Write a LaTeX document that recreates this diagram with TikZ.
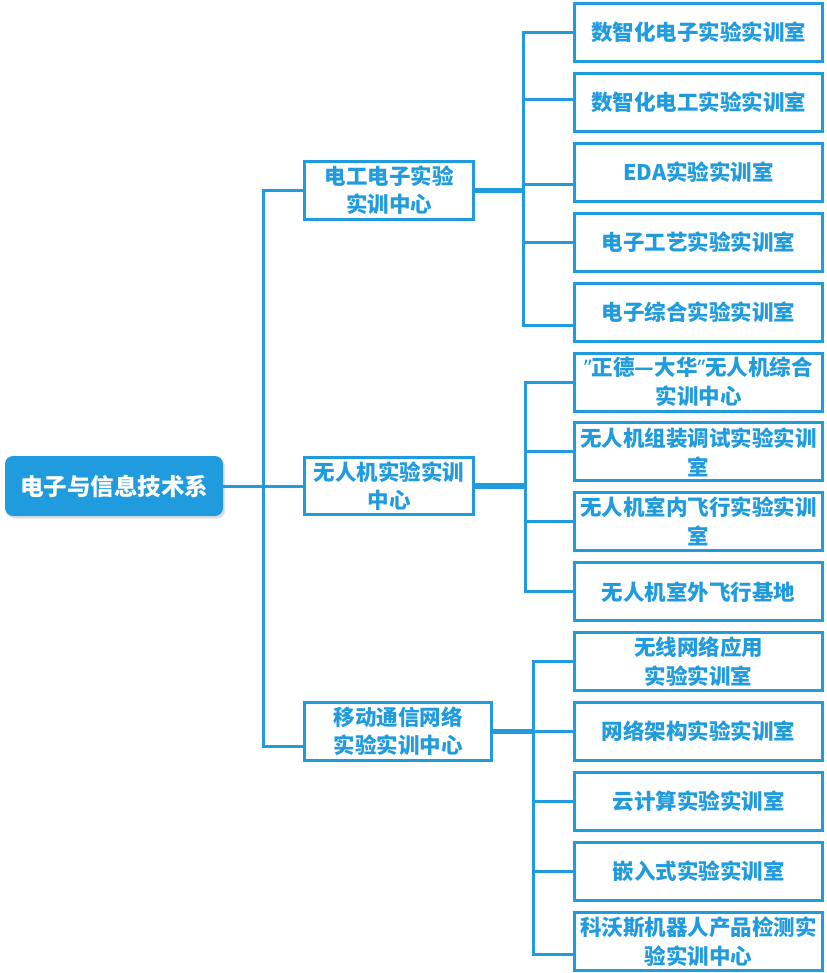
\documentclass[tikz,border=0pt]{standalone}
\usepackage{fontspec}
\setmainfont{Noto Sans CJK SC}
\newfontfamily\latinf{Noto Sans}
\usetikzlibrary{shadows}
\definecolor{xblue}{HTML}{1F9BDE}
\newcommand{\myquote}{{\latinf ”}}
\begin{document}
\begin{tikzpicture}[x=1pt,y=-1pt,
  conn/.style={draw=xblue,line width=3pt},
  thickconn/.style={draw=xblue,line width=5.5pt},
  rootbox/.style={rectangle,rounded corners=8pt,fill=xblue,text=white,
    minimum width=218pt,minimum height=60pt,inner sep=0pt,
    font=\bfseries\fontsize{23.5pt}{30pt}\selectfont,
    drop shadow={opacity=0.25,shadow xshift=2pt,shadow yshift=-2.5pt}},
  midbox/.style={rectangle,draw=xblue,line width=3pt,fill=white,text=xblue,
    minimum height=58pt,inner sep=0pt,align=center,
    font=\bfseries\fontsize{21.5pt}{28pt}\selectfont},
  leafbox/.style={rectangle,draw=xblue,line width=3pt,fill=white,text=xblue,
    minimum width=248pt,minimum height=58pt,inner sep=0pt,align=center,
    font=\bfseries\fontsize{21.5pt}{29pt}\selectfont}]
\useasboundingbox (0,0) rectangle (826,973);

% root and centres
\node[rootbox] (root) at (114,486) {电子与信息技术系};
\node[midbox,minimum width=169pt] (m1) at (389,190.5) {电工电子实验\\实训中心};
\node[midbox,minimum width=169pt,minimum height=57pt] (m2) at (389,486) {无人机实验实训\\中心};
\node[midbox,minimum width=187pt] (m3) at (398,731.5) {移动通信网络\\实验实训中心};

% leaves
\node[leafbox] (c0) at (698.5,32.5) {数智化电子实验实训室};
\node[leafbox] (c1) at (698.5,102.4) {数智化电工实验实训室};
\node[leafbox] (c2) at (698.5,172.3) {EDA实验实训室};
\node[leafbox] (c3) at (698.5,242.2) {电子工艺实验实训室};
\node[leafbox] (c4) at (698.5,312.1) {电子综合实验实训室};
\node[leafbox] (c5) at (698.5,382.0) {\myquote 正德—大华\myquote 无人机综合\\实训中心};
\node[leafbox] (c6) at (698.5,451.9) {无人机组装调试实验实训\\室};
\node[leafbox] (c7) at (698.5,521.8) {无人机室内飞行实验实训\\室};
\node[leafbox] (c8) at (698.5,591.7) {无人机室外飞行基地};
\node[leafbox] (c9) at (698.5,661.6) {无线网络应用\\实验实训室};
\node[leafbox] (c10) at (698.5,731.5) {网络架构实验实训室};
\node[leafbox] (c11) at (698.5,801.4) {云计算实验实训室};
\node[leafbox] (c12) at (698.5,871.3) {嵌入式实验实训室};
\node[leafbox] (c13) at (698.5,941.2) {科沃斯机器人产品检测实\\验实训中心};

% junctions
\coordinate (t) at (263,486);
\coordinate (j1) at (523,190.5);
\coordinate (j2) at (525,486);
\coordinate (j3) at (533,731.5);

% trunk
\draw[conn] (root.east) -- (m2.west);
\draw[conn] (t) |- (m1.west);
\draw[conn] (t) |- ([yshift=-14.5pt]m3.west);

% thick links to groups
\draw[thickconn] (m1.east) -- (j1);
\draw[thickconn] (m2.east) -- (j2);
\draw[thickconn] (m3.east) -- (j3);

% group 1
\draw[conn] (j1) |- (c0.west);
\draw[conn] (j1) |- ([yshift=2.4pt]c1.west);
\draw[conn] (j1) |- ([yshift=-12.7pt]c2.west);
\draw[conn] (j1) |- (c3.west);
\draw[conn] (j1) |- ([yshift=-13pt]c4.west);
% group 2
\draw[conn] (j2) |- (c5.west);
\draw[conn] (j2) |- (c6.west);
\draw[conn] (j2) |- (c7.west);
\draw[conn] (j2) |- (c8.west);
% group 3
\draw[conn] (j3) |- (c9.west);
\draw[conn] (j3) -- (c10.west);
\draw[conn] (j3) |- (c11.west);
\draw[conn] (j3) |- (c12.west);
\draw[conn] (j3) |- ([yshift=-13pt]c13.west);
\end{tikzpicture}
\end{document}
